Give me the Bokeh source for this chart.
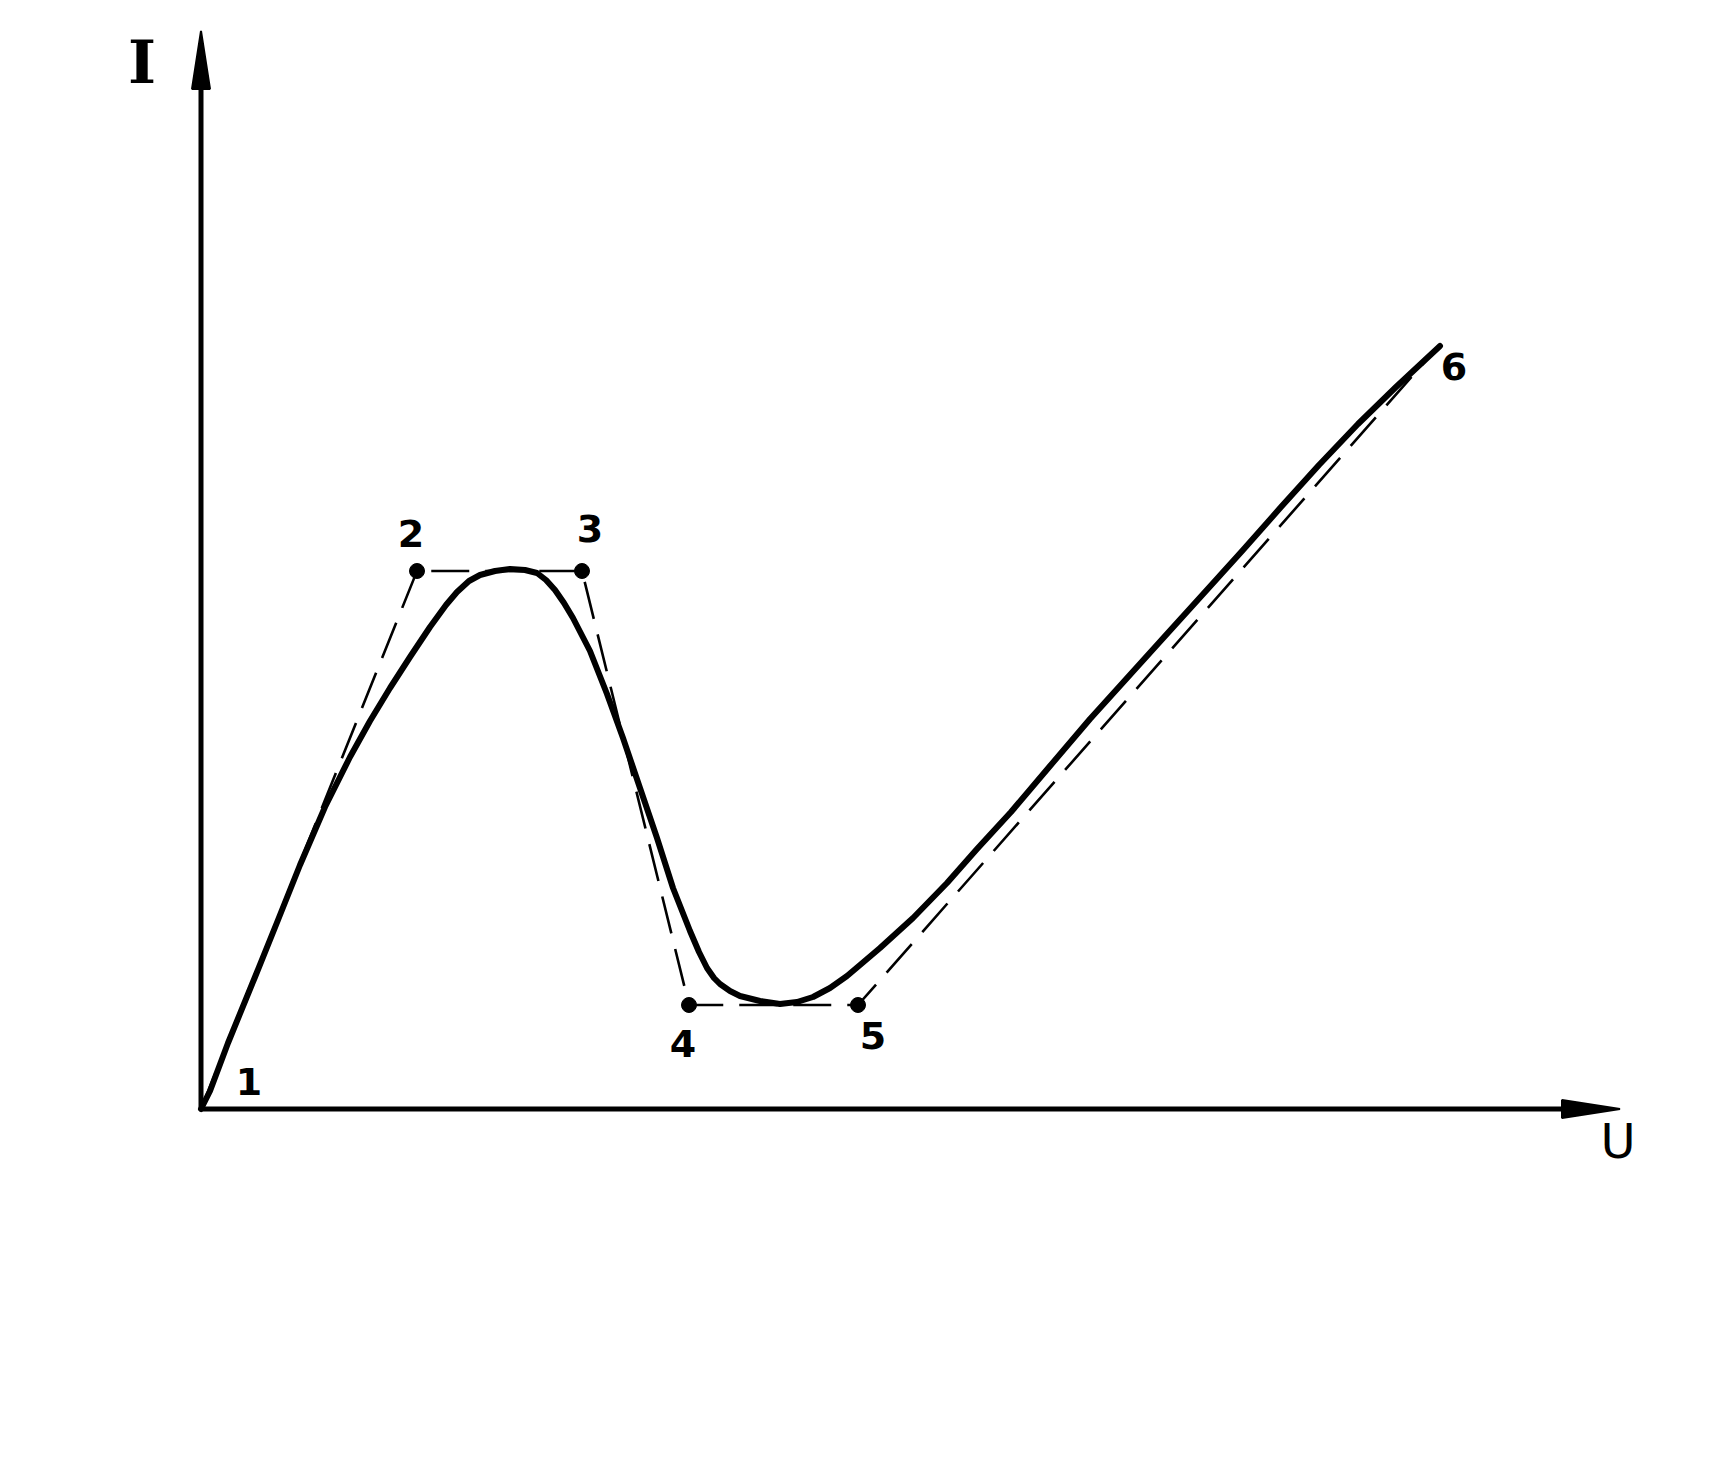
from bokeh.plotting import figure
from bokeh.models import ColumnDataSource, Range1d
from bokeh.core.properties import value
from bokeh.embed import file_html
from bokeh.resources import INLINE

# --- data (arbitrary units U, I) ---
curve_u = [0.0, 0.09, 0.27, 0.54, 0.77, 0.99, 1.24, 1.49, 1.69, 1.89, 2.09, 2.29,
           2.45, 2.56, 2.68, 2.79, 2.94, 3.09, 3.24, 3.36, 3.45, 3.54, 3.63, 3.72,
           3.89, 4.06, 4.22, 4.39, 4.56, 4.72, 4.89, 4.98, 5.06, 5.13, 5.19, 5.29,
           5.39, 5.59, 5.79, 5.96, 6.12, 6.29, 6.46, 6.59, 6.79, 7.12, 7.46, 7.76,
           8.10, 8.49, 8.89, 9.27, 9.65, 10.04, 10.42, 10.80, 11.18, 11.57, 11.95, 12.39]
curve_i = [0.0, 0.18, 0.66, 1.32, 1.89, 2.44, 3.02, 3.52, 3.88, 4.21, 4.52, 4.82,
           5.04, 5.17, 5.28, 5.34, 5.38, 5.40, 5.39, 5.36, 5.29, 5.19, 5.06, 4.91,
           4.58, 4.15, 3.71, 3.21, 2.71, 2.21, 1.78, 1.57, 1.41, 1.31, 1.25, 1.18,
           1.13, 1.08, 1.05, 1.07, 1.12, 1.21, 1.33, 1.44, 1.61, 1.91, 2.26, 2.60,
           2.97, 3.43, 3.90, 4.32, 4.74, 5.17, 5.59, 6.02, 6.44, 6.85, 7.22, 7.63]

point_u = [0.0, 2.16, 3.81, 4.88, 6.57, 12.35]
point_i = [0.0, 5.38, 5.38, 1.04, 1.04, 7.60]
point_labels = ["1", "2", "3", "4", "5", "6"]
label_u = [0.48, 2.10, 3.89, 4.82, 6.72, 12.53]
label_i = [0.28, 5.76, 5.81, 0.66, 0.74, 7.43]
dot_index = [1, 2, 3, 4]

U_MAX = 14.19
I_MAX = 10.78
U_TITLE = "U"
I_TITLE = "I"

# --- figure ---
W, H = 1708, 1445
PX = 100.0  # pixels per unit
x0 = -2.005
y1 = 11.085
p = figure(width=W, height=H, output_backend="svg", toolbar_location=None,
           x_range=Range1d(x0, x0 + W / PX), y_range=Range1d(y1 - H / PX, y1),
           min_border=0)
p.axis.visible = False
p.grid.visible = False
p.outline_line_color = None
p.background_fill_color = "white"
p.border_fill_color = "white"

# axes lines
p.line([0, 0], [0, I_MAX - 0.3], line_color="black", line_width=5)
p.line([0, U_MAX - 0.3], [0, 0], line_color="black", line_width=5)
# arrow heads (long narrow triangles)
hl, hw = 0.58, 0.09
p.patch([-hw, 0, hw], [I_MAX - hl, I_MAX, I_MAX - hl], fill_color="black", line_color="black", line_width=2)
p.patch([U_MAX - hl, U_MAX, U_MAX - hl], [-hw, 0, hw], fill_color="black", line_color="black", line_width=2)

# dashed piecewise-linear approximation
p.line(point_u, point_i, line_color="black", line_width=2.6, line_dash="38 16")
# dots
p.scatter([point_u[k] for k in dot_index], [point_i[k] for k in dot_index],
          size=15, color="black")

# solid curve
p.line(curve_u, curve_i, line_color="black", line_width=6, line_join="round", line_cap="round")

# labels
src = ColumnDataSource(dict(x=label_u, y=label_i, t=point_labels))
p.text("x", "y", text="t", source=src, text_font=value("DejaVu Sans"),
       text_font_size="38px", text_font_style="bold", text_align="center",
       text_baseline="middle", text_color="black")

p.text([-0.59], [10.47], text=[I_TITLE], text_font=value("DejaVu Serif"),
       text_font_size="60px", text_font_style="bold", text_align="center",
       text_baseline="middle", text_color="black")
p.text([14.17], [-0.32], text=[U_TITLE], text_font=value("DejaVu Sans"),
       text_font_size="48px", text_align="center", text_baseline="middle", text_color="black")

open("out.html", "w").write(file_html(p, INLINE))
